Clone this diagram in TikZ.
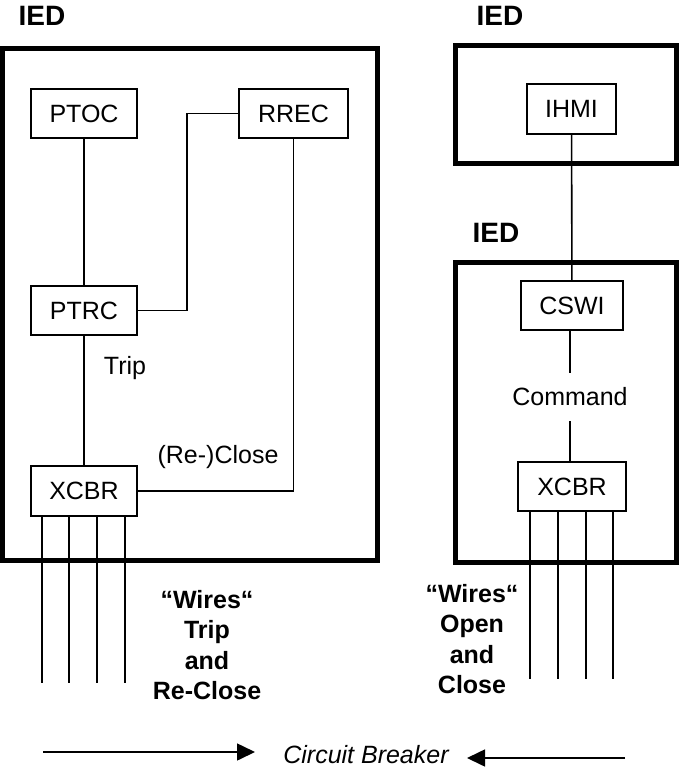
\documentclass[tikz,border=0pt]{standalone}
\usepackage{fontspec}
\setmainfont{Liberation Sans}
\usepackage{tikz}
\usetikzlibrary{arrows.meta}

\begin{document}
\begin{tikzpicture}[x=1pt, y=-1pt,
    every node/.style={font=\fontsize{25}{30}\selectfont, align=center},
    lnode/.style={rectangle, draw, line width=1.6pt,
                  minimum width=106pt, minimum height=49pt, inner sep=2pt},
    iedbox/.style={rectangle, draw, line width=5pt, inner sep=0pt},
    link/.style={line width=1.6pt},
    iedlbl/.style={font=\bfseries\fontsize{28}{32}\selectfont, inner sep=0pt},
    wirelbl/.style={font=\bfseries\fontsize{25}{30.5}\selectfont, inner sep=0pt},
    flow/.style={-{Triangle[length=18pt,width=17pt]}, line width=1.6pt},
  ]
    \useasboundingbox (0,0) rectangle (679,768);

    \node[iedbox, minimum width=375pt, minimum height=511pt]   (iedL) at (190,304.5) {};
    \node[iedbox, minimum width=221pt, minimum height=118pt]   (iedT) at (566,104.5) {};
    \node[iedbox, minimum width=221pt, minimum height=300pt]   (iedB) at (566,412.5) {};

    \node[iedlbl] (lblL) at (42,16)  {IED};
    \node[iedlbl] (lblT) at (500,16) {IED};
    \node[iedlbl] (lblB) at (496,233) {IED};

    \node[lnode]                    (ptoc)  at (84,113.5)   {PTOC};
    \node[lnode, minimum width=109pt] (rrec) at (293.5,113.5) {RREC};
    \node[lnode]                    (ptrc)  at (84,310.5)   {PTRC};
    \node[lnode, minimum height=50pt] (xcbrL) at (84,491)   {XCBR};

    \node[lnode, minimum width=89pt, minimum height=50pt] (ihmi)  at (571.5,109)  {IHMI};
    \node[lnode, minimum width=102pt]                     (cswi)  at (572,305.5)  {CSWI};
    \node[lnode, minimum width=108pt]                     (xcbrR) at (572,486.5)  {XCBR};

    \node[inner sep=0pt] (trip)  at (125,368) {Trip};
    \node[inner sep=0pt] (close) at (218,457) {(Re-)Close};
    \node[inner xsep=0pt, inner ysep=15pt] (cmd) at (570,397) {Command};

    \draw[link] (ptoc) -- (ptrc);
    \draw[link] (ptrc) -- (xcbrL);
    \draw[link] (rrec.west) -- ++(-51,0) |- (ptrc.east);
    \draw[link] (rrec.south) |- (xcbrL.east);
    \draw[link] (ihmi) -- (cswi);
    \draw[link] (cmd.north |- cswi.south) -- (cmd.north);
    \draw[link] (cmd.south) -- (cmd.south |- xcbrR.north);

    \foreach \dx in {-42,-15,13,41}
      \draw[link] ([xshift=\dx pt]xcbrL.south) -- ++(0,166);
    \foreach \dx in {-42,-14,14,41}
      \draw[link] ([xshift=\dx pt]xcbrR.south) -- ++(0,167);

    \node[wirelbl] (wiresL) at (207,645) {“Wires“\\Trip\\and\\Re-Close};
    \node[wirelbl] (wiresR) at (472,639) {“Wires“\\Open\\and\\Close};

    \node[font=\itshape\fontsize{25}{30}\selectfont, inner sep=0pt] (cb) at (366,755) {Circuit Breaker};
    \coordinate (arrLs) at (43,752);
    \coordinate (arrLe) at (255,752);
    \coordinate (arrRs) at (625,758);
    \coordinate (arrRe) at (467,758);
    \draw[flow] (arrLs) -- (arrLe);
    \draw[flow] (arrRs) -- (arrRe);
\end{tikzpicture}
\end{document}
